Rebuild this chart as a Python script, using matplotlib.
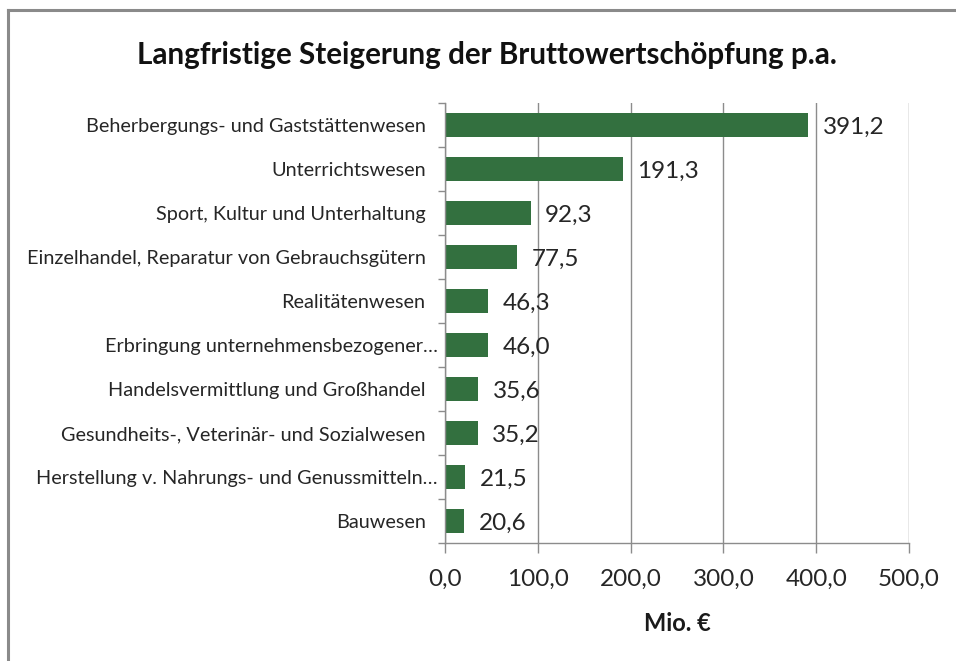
import matplotlib
matplotlib.use("Agg")
import matplotlib.pyplot as plt
from matplotlib.lines import Line2D
from matplotlib.ticker import FixedLocator, FuncFormatter
from matplotlib.transforms import ScaledTranslation

plt.rcParams['font.family'] = ['Lato', 'DejaVu Sans']

categories = [
    "Beherbergungs- und Gaststättenwesen",
    "Unterrichtswesen",
    "Sport, Kultur und Unterhaltung",
    "Einzelhandel, Reparatur von Gebrauchsgütern",
    "Realitätenwesen",
    "Erbringung unternehmensbezogener…",
    "Handelsvermittlung und Großhandel",
    "Gesundheits-, Veterinär- und Sozialwesen",
    "Herstellung v. Nahrungs- und Genussmitteln…",
    "Bauwesen",
]
values = [391.2, 191.3, 92.3, 77.5, 46.3, 46.0, 35.6, 35.2, 21.5, 20.6]
xticks = [0, 100, 200, 300, 400, 500]
title = "Langfristige Steigerung der Bruttowertschöpfung p.a."
xlabel = "Mio. €"

W, H = 956, 661
fig = plt.figure(figsize=(W / 100, H / 100), dpi=100)
ax = fig.add_axes([445 / W, 1 - 543 / H, 464 / W, 440 / H])

bar_color = "#33703f"
grid_color = "#8c8c8c"
n = len(categories)
ypos = list(range(n))
ax.barh(ypos, values, height=0.55, color=bar_color, zorder=3)
ax.set_ylim(n - 0.5, -0.5)
ax.set_xlim(0, 500)

def de(v, _=None):
    return f"{v:.1f}".replace(".", ",")

for y, v in zip(ypos, values):
    ax.annotate(de(v), (v, y), xytext=(10.5, -1.5), textcoords="offset points",
                ha="left", va="center", fontsize=17.5, color="#262626", zorder=4)

ax.set_yticks(ypos)
ax.set_yticklabels(categories, fontsize=14.3, color="#262626")
ax.yaxis.set_minor_locator(FixedLocator([i - 0.5 for i in range(n + 1)]))
ax.tick_params(axis="y", which="major", length=0, pad=14)
ax.tick_params(axis="y", which="minor", length=5, color=grid_color, width=1, direction="out")

# truncated labels sit closer to the axis (as in the original)
shift = ScaledTranslation(12 / 100, 0, fig.dpi_scale_trans)
for tick in ax.yaxis.get_major_ticks():
    if tick.label1.get_text().endswith("…"):
        tick.label1.set_transform(tick.label1.get_transform() + shift)

ax.xaxis.set_major_locator(FixedLocator(xticks))
ax.xaxis.set_major_formatter(FuncFormatter(de))
ax.tick_params(axis="x", which="major", length=7.5, color=grid_color, width=1,
               direction="out", pad=11, labelsize=17.5, labelcolor="#262626")
ax.set_xlabel(xlabel, fontsize=17, fontweight="bold", labelpad=16, color="#1a1a1a")

ax.grid(axis="x", color=grid_color, linewidth=1, zorder=0)
for s in ["top", "right"]:
    ax.spines[s].set_visible(False)
for s in ["left", "bottom"]:
    ax.spines[s].set_color(grid_color)
    ax.spines[s].set_linewidth(1)
    ax.spines[s].set_zorder(5)

fig.text(487 / W, 1 - 55 / H, title, ha="center", va="center",
         fontsize=21.3, fontweight="bold", color="#111111")

# outer frame (top and left edges)
fig.add_artist(Line2D([8 / W, 1], [1 - 10 / H, 1 - 10 / H], color="#8a8a8a", linewidth=2.2,
                      transform=fig.transFigure))
fig.add_artist(Line2D([8 / W, 8 / W], [1 - 10 / H, 0], color="#8a8a8a", linewidth=2.2,
                      transform=fig.transFigure))

fig.savefig("out.png", dpi=100)
